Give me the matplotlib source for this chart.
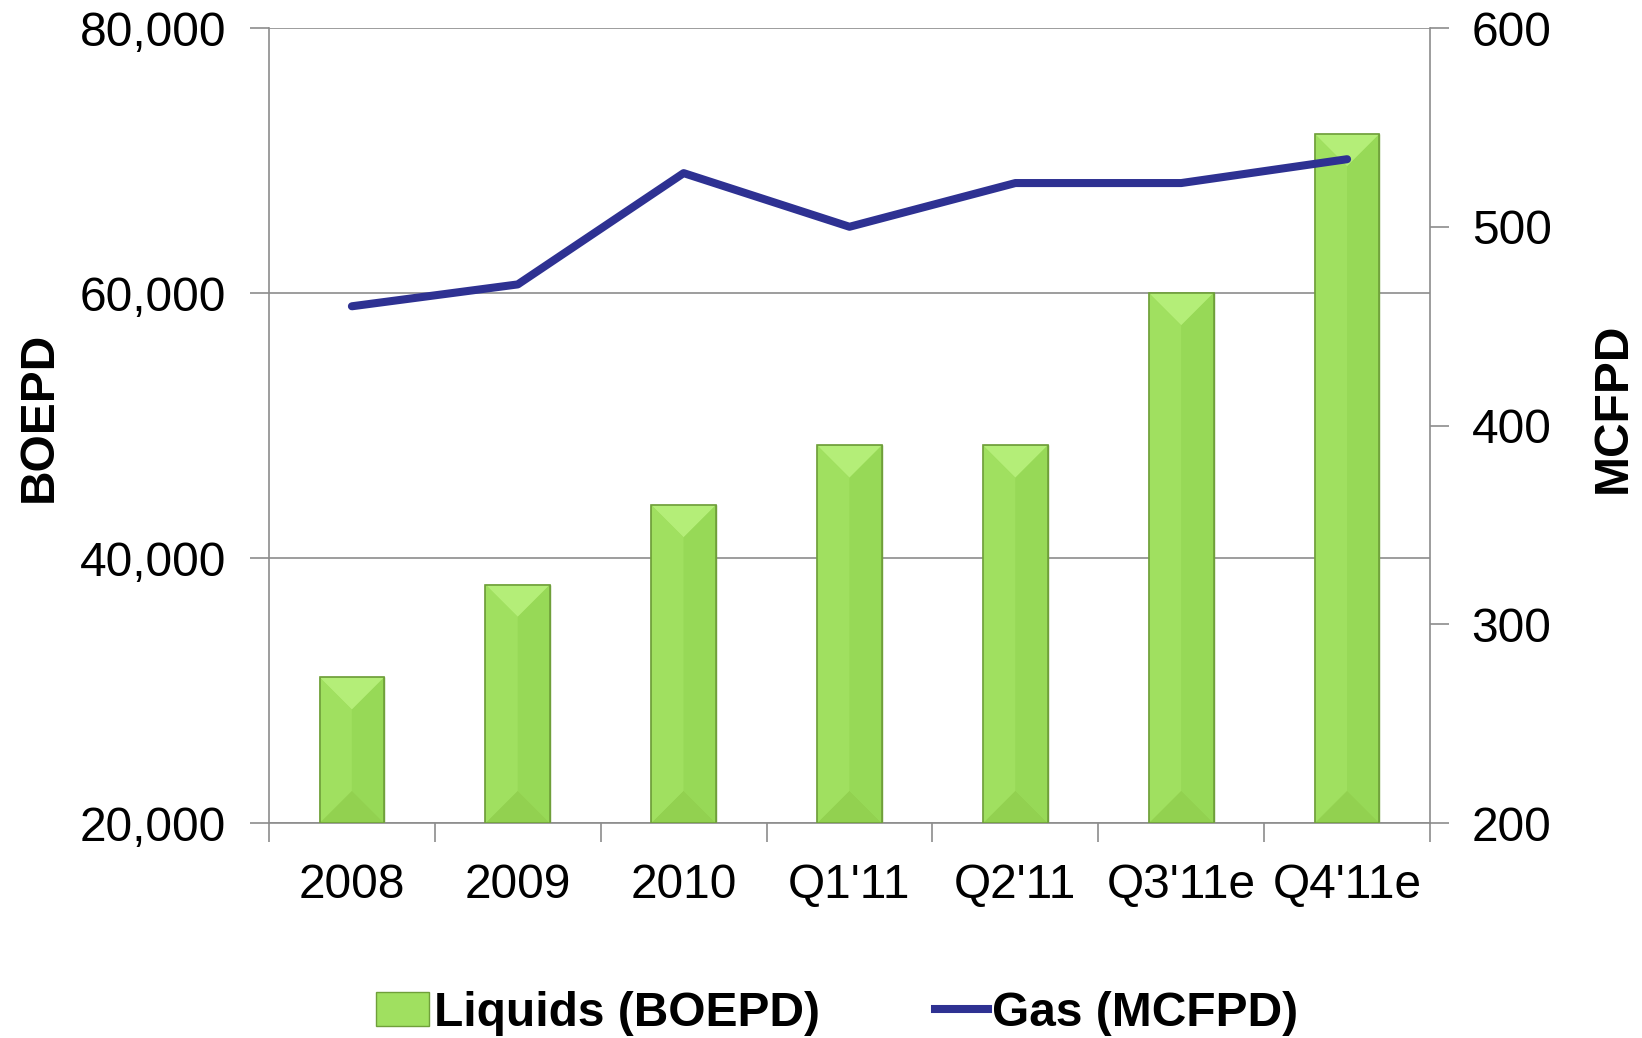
import numpy as np
import matplotlib.pyplot as plt
from matplotlib.patches import Polygon, Patch
from matplotlib.lines import Line2D

plt.rcParams['font.family'] = ['Liberation Sans', 'DejaVu Sans']

# chart data
periods = ["2008", "2009", "2010", "Q1'11", "Q2'11", "Q3'11e", "Q4'11e"]
liquids = [31000, 38000, 44000, 48500, 48500, 60000, 72000]   # BOEPD
gas = [460, 471, 527, 500, 522, 522, 534]                     # MCFPD

bar_w = 0.39
gas_color = '#2E3192'
fs = 34.5

fig = plt.figure(figsize=(16.42, 10.38), dpi=100)
ax = fig.add_axes([0.1638, 0.2071, 0.7071, 0.7659])
x = np.arange(len(periods))

ax.set_xlim(-0.5, len(periods) - 0.5)
ax.set_ylim(20000, 80000)

bars = ax.bar(x, [v - 20000 for v in liquids], bar_w, bottom=20000,
              color='#9edd5c', edgecolor='#6f9f3a', linewidth=1, zorder=2)

# bevel effect: split each bar into four faces
fig.canvas.draw()
px_to_data = (80000 - 20000) / (ax.bbox.height)
px_to_x = (len(periods)) / (ax.bbox.width)
for xi, v in zip(x, liquids):
    l, r = xi - bar_w / 2, xi + bar_w / 2
    half_px = bar_w / 2 / px_to_x
    d = half_px * px_to_data
    b, t = 20000, v
    faces = [
        ([(l, t), (r, t), (xi, t - d)], '#b4ee78'),
        ([(l, b), (r, b), (xi, b + d)], '#92d150'),
        ([(l, t), (xi, t - d), (xi, b + d), (l, b)], '#a0e060'),
        ([(r, t), (xi, t - d), (xi, b + d), (r, b)], '#97d957'),
    ]
    for pts, c in faces:
        ax.add_patch(Polygon(pts, closed=True, facecolor=c, edgecolor='none', zorder=3))
    ax.add_patch(Polygon([(l, b), (l, t), (r, t), (r, b)], closed=True, fill=False,
                         edgecolor='#6f9f3a', linewidth=1.2, zorder=4))

ax.set_yticks([20000, 40000, 60000, 80000])
ax.set_yticklabels(['20,000', '40,000', '60,000', '80,000'])
ax.yaxis.grid(True, color='#8c8c8c', linewidth=1.2, zorder=0)
ax.set_axisbelow(True)
ax.set_xticks(x)
ax.set_xticklabels(periods)
ax.set_xticks(np.arange(len(periods) + 1) - 0.5, minor=True)
ax.tick_params(axis='x', which='major', length=0, pad=29, labelsize=fs)
ax.tick_params(axis='x', which='minor', length=14, color='#8c8c8c', width=1.2)
ax.tick_params(axis='y', length=14, color='#8c8c8c', width=1.2, labelsize=fs, pad=17)
for s in ['left', 'bottom', 'right']:
    ax.spines[s].set_color('#8c8c8c')
    ax.spines[s].set_linewidth(1.2)
ax.spines['top'].set_visible(False)
ax.set_ylabel('BOEPD', fontsize=fs, fontweight='bold', labelpad=13)
ax.yaxis.label.set_y(0.511)

ax2 = ax.twinx()
ax2.plot(x, gas, color=gas_color, linewidth=5.8, solid_capstyle='round', zorder=5)
ax2.set_ylim(200, 600)
ax2.set_yticks([200, 300, 400, 500, 600])
ax2.tick_params(axis='y', length=14, color='#8c8c8c', width=1.2, labelsize=fs, pad=16)
for s in ['left', 'bottom', 'right', 'top']:
    ax2.spines[s].set_visible(False)
ax2.set_ylabel('MCFPD', fontsize=fs, fontweight='bold', labelpad=28)
ax2.yaxis.label.set_y(0.522)

handles = [Patch(facecolor='#a0e060', edgecolor='#6f9f3a', label='Liquids (BOEPD)'),
           Line2D([0], [0], color=gas_color, linewidth=5.8, label='Gas (MCFPD)')]
fig.legend(handles=handles, loc='center', bbox_to_anchor=(0.51, 0.024), ncol=2,
           frameon=False, prop={'size': fs, 'weight': 'bold'},
           handlelength=1.1, handletextpad=0.1, columnspacing=2.4)

fig.savefig('out.png', dpi=100)
